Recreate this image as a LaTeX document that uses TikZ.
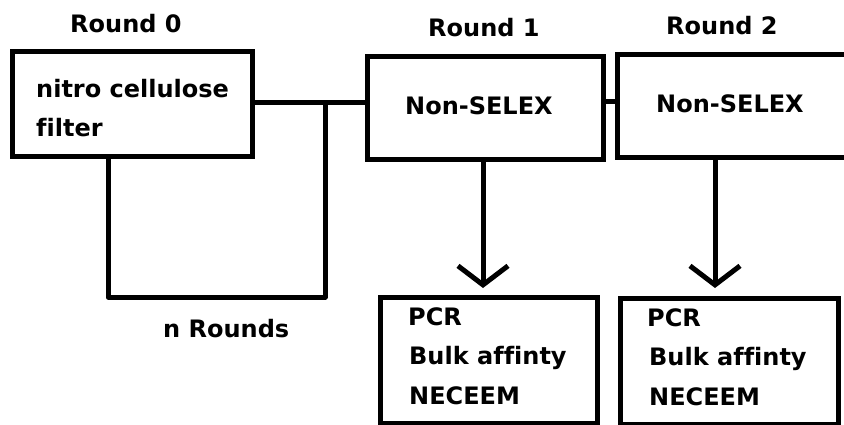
\documentclass[tikz,border=0pt]{standalone}
\usepackage{fontspec}
\setmainfont[Ligatures=NoCommon]{DejaVu Sans}
\usetikzlibrary{arrows.meta,calc}
\begin{document}
\begin{tikzpicture}[x=1pt,y=-1pt,
  box/.style={draw=black,line width=5pt,outer sep=0pt,inner sep=0pt,fill=none},
  lbl/.style={anchor=base west,inner sep=0pt,font=\fontsize{24}{28}\selectfont\bfseries},
  wire/.style={draw=black,line width=5pt,line join=round},
  arr/.style={wire,-{Straight Barb[length=19pt,width=50pt,line width=5pt]}}]
\useasboundingbox (0,0) rectangle (844,425);
\clip (0,0) rectangle (844,425);
\fill[white] (0,0) rectangle (844,425);
% boxes
\node[box,minimum width=240pt,minimum height=105pt] (b0) at (132,104.5) {};
\node[box,minimum width=236pt,minimum height=103pt] (b1) at (485,108.5) {};
\node[box,minimum width=236pt,minimum height=103pt] (b2) at (735,106.5) {};
\node[box,minimum width=217pt,minimum height=126pt] (b3) at (488.5,360) {};
\node[box,minimum width=218pt,minimum height=126pt] (b4) at (729,361) {};
% texts
\node[lbl] (t0) at (70,33) {Round 0};
\node[lbl] (t1) at (428,37) {Round 1};
\node[lbl] (t2) at (666,35) {Round 2};
\node[lbl] (n1) at (36,98) {nitro cellulose};
\node[lbl] (n2) at (36,137) {filter};
\node[lbl] (s1) at (405,115) {Non-SELEX};
\node[lbl] (s2) at (656,113) {Non-SELEX};
\node[lbl] (nr) at (163,337) {n Rounds};
\node[lbl] (p1) at (408,325) {PCR};
\node[lbl] (q1) at (409,364) {Bulk affinty};
\node[lbl] (r1) at (409,404) {NECEEM};
\node[lbl] (p2) at (647,326) {PCR};
\node[lbl] (q2) at (649,365) {Bulk affinty};
\node[lbl] (r2) at (649,405) {NECEEM};
% connectors
\coordinate (jn) at (325,103);
\coordinate (lp1) at (108,297);
\coordinate (lp2) at (325,297);
\coordinate (m12) at (610,102);
\draw[wire] (b0.east |- jn) -- (b1.west |- jn);
\draw[wire] (b0.south -| lp1) -- (lp1) -- (lp2) -- (jn);
\draw[wire] (b1.east |- m12) -- (b2.west |- m12);
\draw[arr] ([xshift=-2pt]b1.south) -- ([xshift=-5.5pt,yshift=9pt]b3.north);
\draw[arr] ([xshift=-20pt]b2.south) -- ([xshift=-14pt,yshift=10pt]b4.north);
\end{tikzpicture}
\end{document}
